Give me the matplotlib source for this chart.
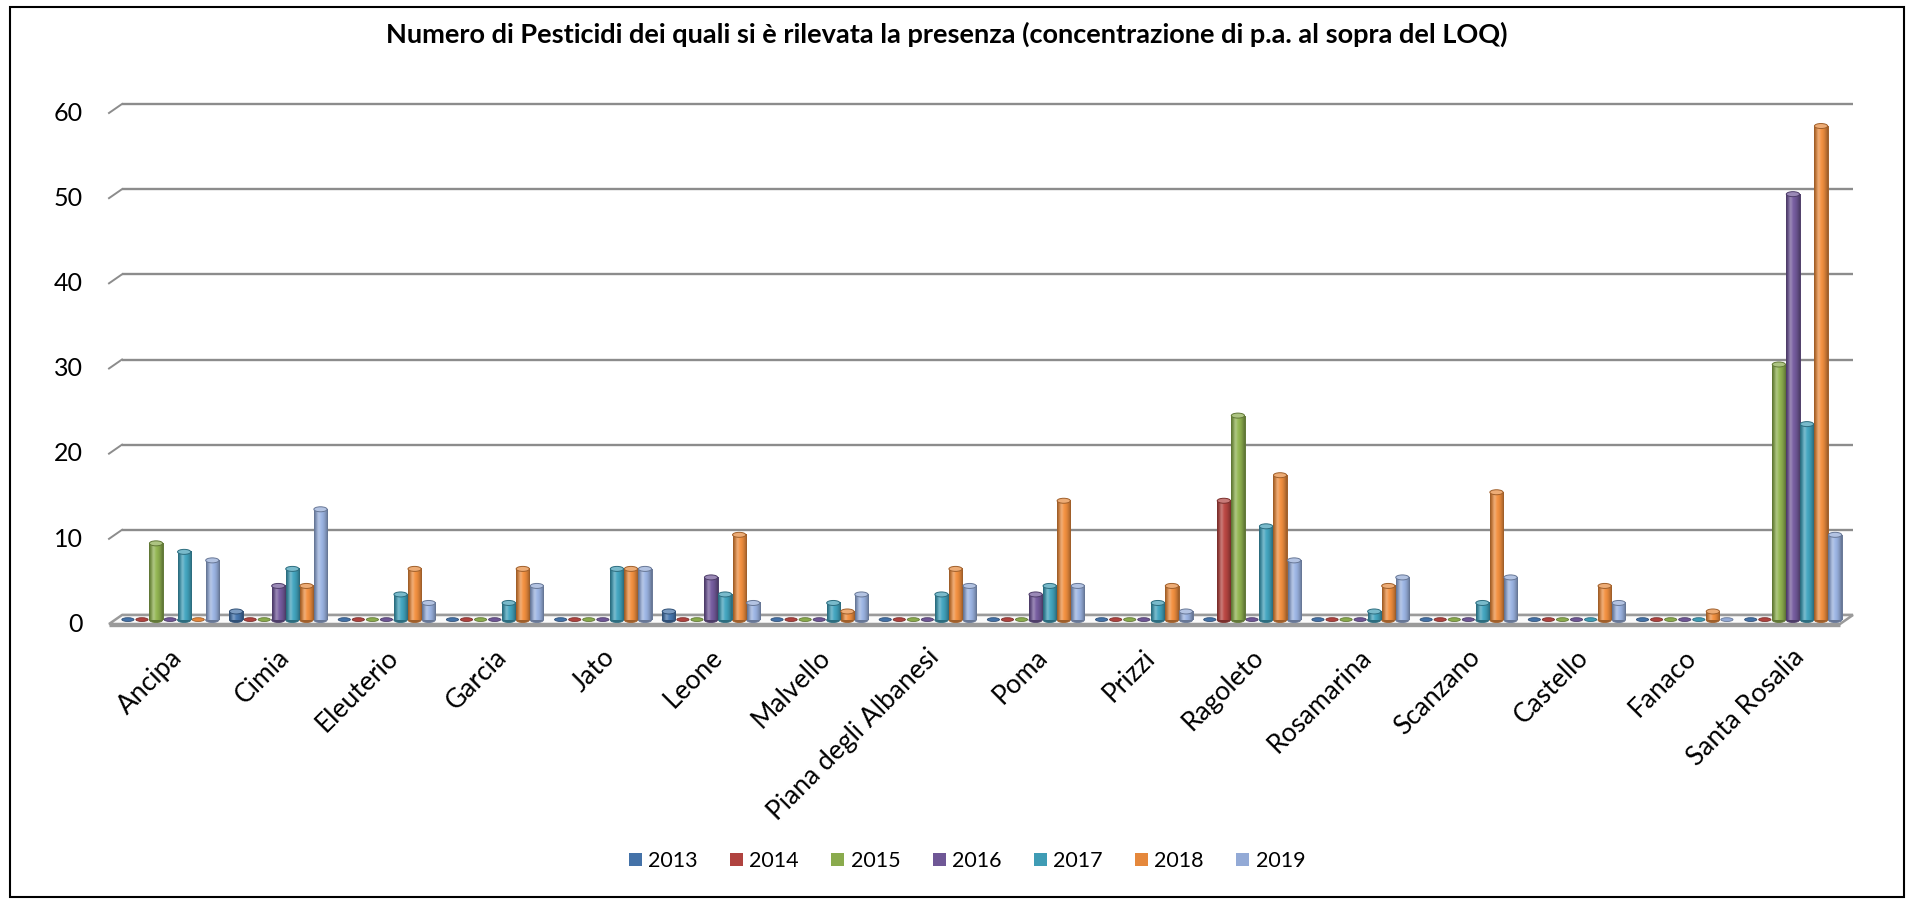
import numpy as np
import matplotlib.pyplot as plt
from matplotlib.patches import Ellipse, Rectangle, Polygon, Patch
from matplotlib.colors import to_rgb

plt.rcParams['font.family'] = ['Lato', 'DejaVu Sans']

invasi = ['Ancipa', 'Cimia', 'Eleuterio', 'Garcia', 'Jato', 'Leone', 'Malvello',
          'Piana degli Albanesi', 'Poma', 'Prizzi', 'Ragoleto', 'Rosamarina',
          'Scanzano', 'Castello', 'Fanaco', 'Santa Rosalia']
anni = ['2013', '2014', '2015', '2016', '2017', '2018', '2019']

v2013 = [0, 1, 0, 0, 0, 1, 0, 0, 0, 0, 0, 0, 0, 0, 0, 0]
v2014 = [0, 0, 0, 0, 0, 0, 0, 0, 0, 0, 14, 0, 0, 0, 0, 0]
v2015 = [9, 0, 0, 0, 0, 0, 0, 0, 0, 0, 24, 0, 0, 0, 0, 30]
v2016 = [0, 4, 0, 0, 0, 5, 0, 0, 3, 0, 0, 0, 0, 0, 0, 50]
v2017 = [8, 6, 3, 2, 6, 3, 2, 3, 4, 2, 11, 1, 2, 0, 0, 23]
v2018 = [0, 4, 6, 6, 6, 10, 1, 6, 14, 4, 17, 4, 15, 4, 1, 58]
v2019 = [7, 13, 2, 4, 6, 2, 3, 4, 4, 1, 7, 5, 5, 2, 0, 10]
serie = [v2013, v2014, v2015, v2016, v2017, v2018, v2019]

colori = ['#4472a8', '#b0433f', '#8aab4d', '#6f5796', '#3f9cb5', '#e5883c', '#93aad6']

titolo = ('Numero di Pesticidi dei quali si è rilevata la presenza '
          '(concentrazione di p.a. al sopra del LOQ)')

W, H = 1914, 900
fig = plt.figure(figsize=(W / 100, H / 100), dpi=100)

# piano delle barre: x da 116 a 1847 px, y=0 a 620 px, y=60 a 109 px
ax = fig.add_axes([116 / W, (H - 620) / H, (1847 - 116) / W, (620 - 109) / H])
ax.set_xlim(-0.5, 15.5)
ax.set_ylim(0, 60)
ax.axis('off')

px_x = (1847 - 116) / 16.0
px_y = (620 - 109) / 60.0
# prospettiva finta: parete di fondo e bordo anteriore del pavimento
bx, by = 6 / px_x, 5 / px_y
fx, fy = -7 / px_x, -4 / px_y

# griglia sulla parete di fondo
for yv in range(0, 61, 10):
    ax.plot([-0.5 + bx, 15.5 + bx], [yv + by, yv + by], color='#8c8c8c',
            lw=1.7, clip_on=False, zorder=0.5, solid_capstyle='butt')
    if yv > 0:
        ax.plot([-0.5 + fx, -0.5 + bx], [yv + fy, yv + by], color='#8c8c8c',
                lw=1.4, clip_on=False, zorder=0.5)
    ax.text(-0.5 - 33 / px_x, yv - 0.5, str(yv), ha='right', va='center',
            fontsize=18, clip_on=False)

# pavimento
pav = Polygon([(-0.5 + fx, fy), (-0.5 + bx, by), (15.5 + bx, by), (15.5 + fx, fy)],
              closed=True, facecolor='#fbfbfb', edgecolor='#9a9a9a', lw=1.8,
              clip_on=False, zorder=1)
ax.add_patch(pav)
ax.plot([-0.5 + fx, 15.5 + fx], [fy - 0.12, fy - 0.12], color='#9a9a9a', lw=2.4,
        clip_on=False, zorder=1, solid_capstyle='butt')

bw = 0.13
ell_h = 5 / px_y
t = np.linspace(0, 1, 48)
s = np.sin(np.pi * t)
luce = np.exp(-((t - 0.32) / 0.14) ** 2)

for j, (vals, col) in enumerate(zip(serie, colori)):
    c = np.array(to_rgb(col))
    scuro = c * 0.7
    chiaro = c + (1 - c) * 0.3
    grad = c[None, :] * (0.68 + 0.38 * s[:, None]) + (1 - c)[None, :] * 0.28 * luce[:, None]
    grad = np.clip(grad, 0, 1)[None, :, :]
    for i, v in enumerate(vals):
        xc = i + (j - 3) * bw
        w = bw * 0.94
        if v <= 0:
            ax.add_patch(Ellipse((xc, 0.05), w * 0.92, ell_h * 0.75, facecolor=c,
                                 edgecolor=scuro, lw=0.6, clip_on=False, zorder=2))
            continue
        ax.add_patch(Ellipse((xc, 0), w, ell_h, facecolor=scuro, edgecolor=scuro,
                             lw=0.6, clip_on=False, zorder=2))
        ax.imshow(grad, extent=[xc - w / 2, xc + w / 2, 0, v], aspect='auto',
                  interpolation='bilinear', zorder=3, clip_on=False)
        ax.plot([xc - w / 2, xc - w / 2], [0, v], color=scuro, lw=0.7, zorder=3.1)
        ax.plot([xc + w / 2, xc + w / 2], [0, v], color=scuro, lw=0.7, zorder=3.1)
        ax.add_patch(Ellipse((xc, v), w, ell_h, facecolor=chiaro, edgecolor=scuro,
                             lw=0.7, clip_on=False, zorder=4))

ax.set_xlim(-0.5, 15.5)
ax.set_ylim(0, 60)

# etichette delle categorie
for i, nome in enumerate(invasi):
    ax.text(i - 0.01, -2.9, nome, rotation=45, ha='right', va='top',
            rotation_mode='anchor', fontsize=19, clip_on=False)

fig.text(947 / W, 1 - 34 / H, titolo, ha='center', va='center',
         fontsize=19.5, fontweight='bold')

maniglie = [Patch(facecolor=c, edgecolor='none') for c in colori]
fig.legend(maniglie, anni, loc='center', bbox_to_anchor=(967 / W, 1 - 861 / H),
           ncol=7, frameon=False, fontsize=15.5, handlelength=0.6, handleheight=0.6,
           handletextpad=0.3, columnspacing=1.5)

fig.patches.append(Rectangle((10 / W, 3 / H), (1904 - 10) / W, (897 - 7) / H,
                             transform=fig.transFigure, fill=False,
                             edgecolor='black', lw=1.5))

fig.savefig('out.png', dpi=100)
